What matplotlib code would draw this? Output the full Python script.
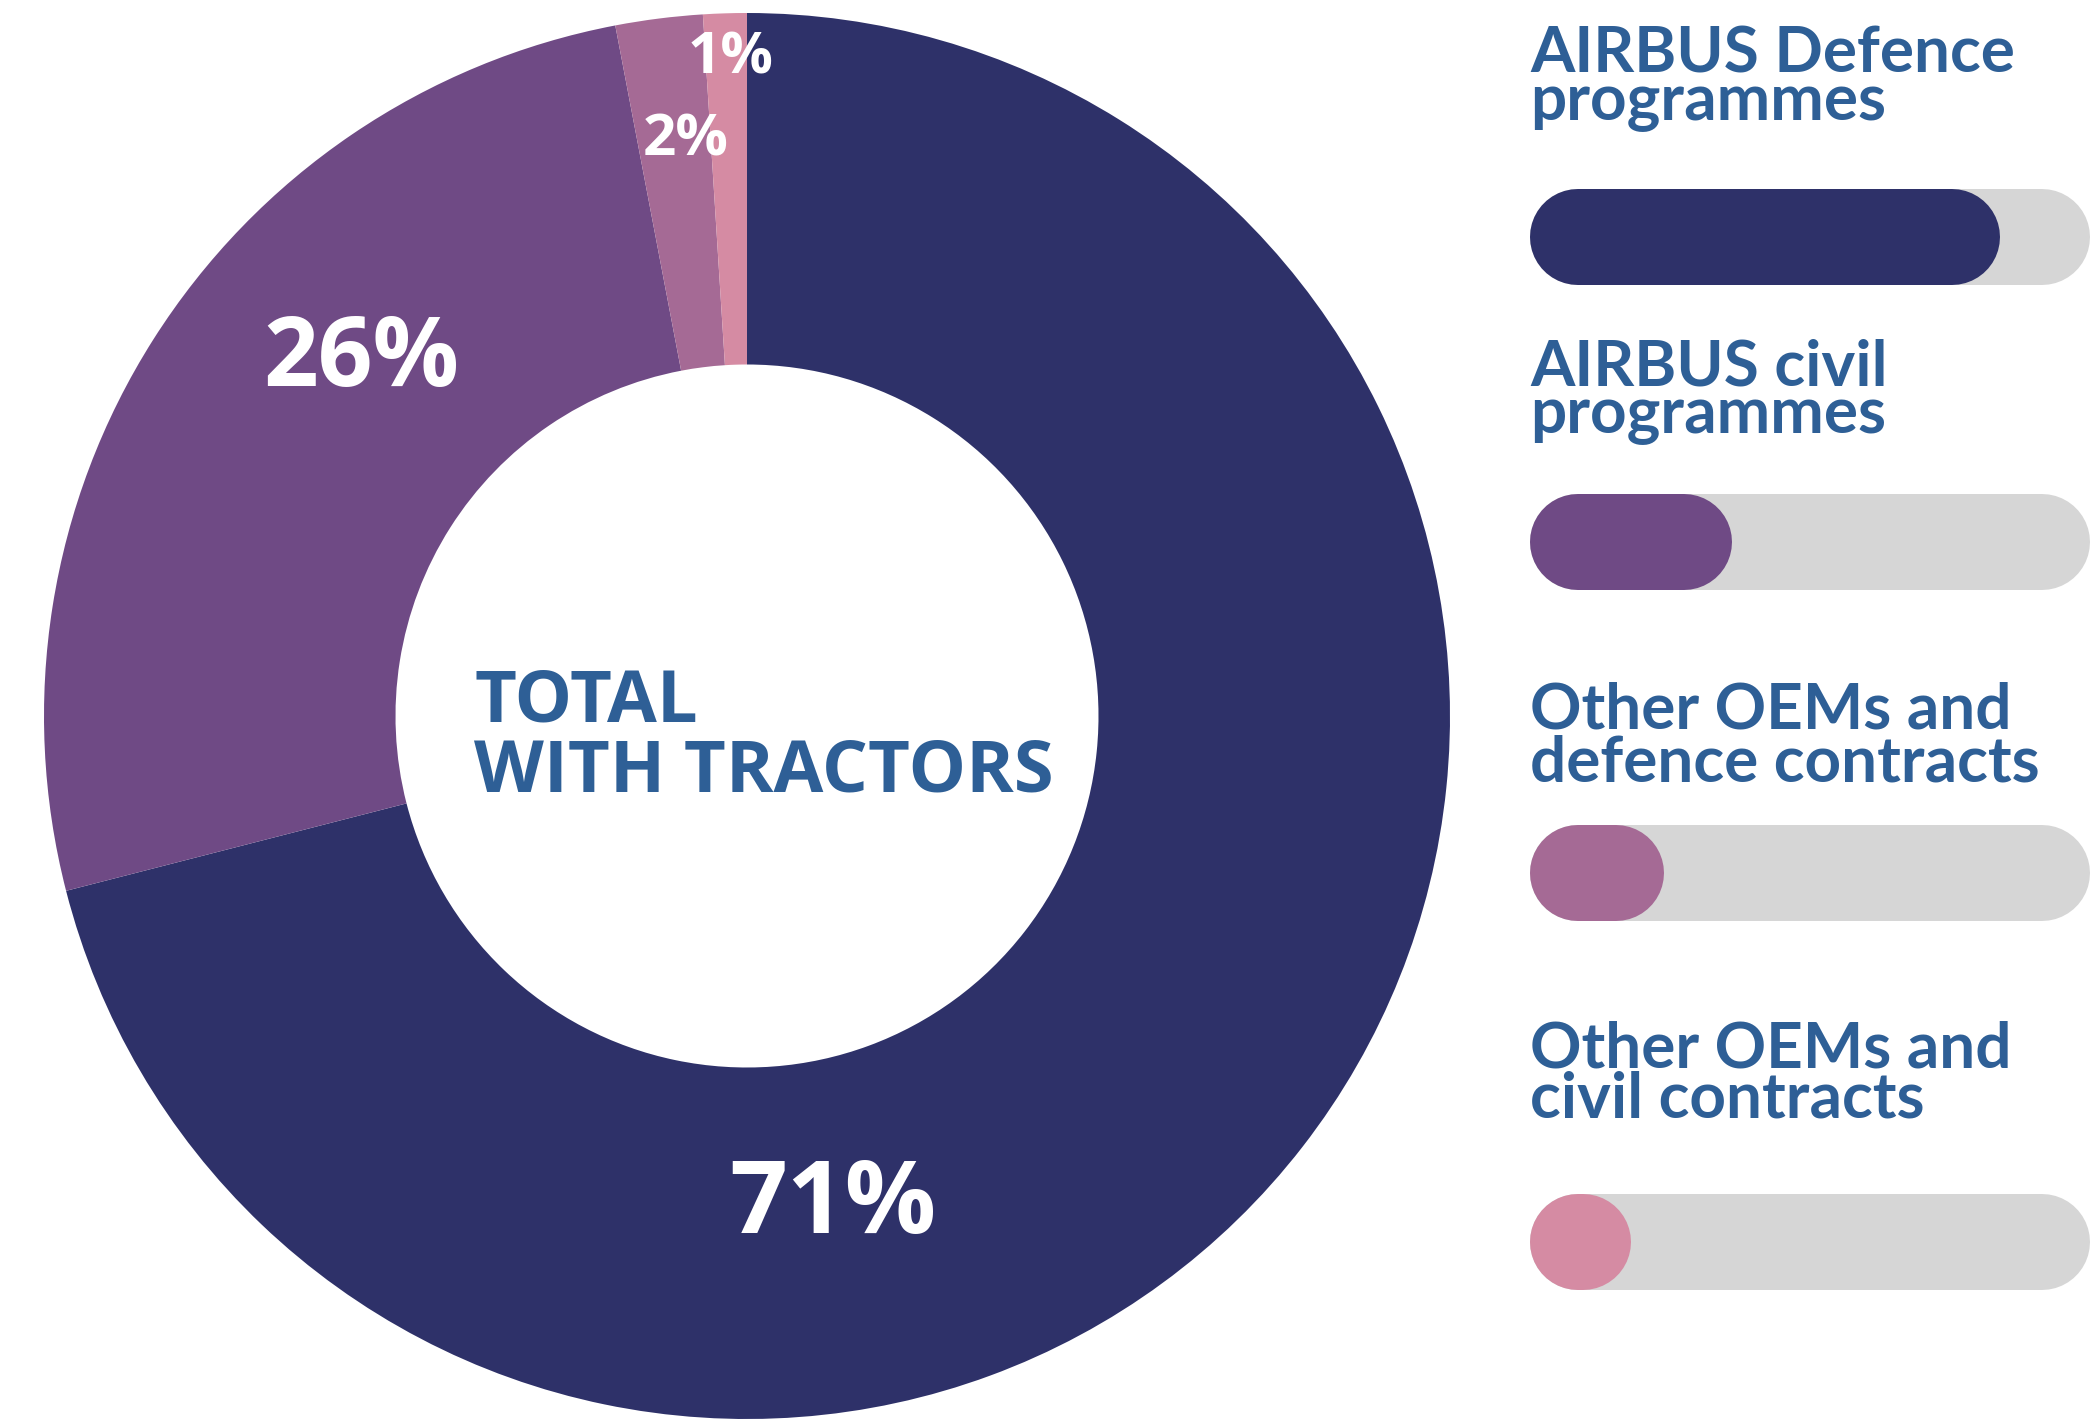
import matplotlib

matplotlib.use('Agg')
import matplotlib.pyplot as plt

W, H = 2091, 1419
DPI = 100

# data
shares = [71, 26, 2, 1]
share_labels = ['71%', '26%', '2%', '1%']
colors = ['#2e3169', '#6f4a85', '#a56a95', '#d58ba3']
legend_labels = [
    'AIRBUS Defence\nprogrammes',
    'AIRBUS civil\nprogrammes',
    'Other OEMs and\ndefence contracts',
    'Other OEMs and\ncivil contracts',
]
bar_fill = [0.84, 0.36, 0.24, 0.18]
center_text = ['TOTAL', 'WITH TRACTORS']

TEXT_BLUE = '#2e5f96'
TRACK = '#d6d6d6'

plt.rcParams['font.family'] = ['Open Sans', 'DejaVu Sans']


def sy(y):
    # screen y (from top) -> data y
    return H - y


fig = plt.figure(figsize=(W / DPI, H / DPI), dpi=DPI)
ax = fig.add_axes([0, 0, 1, 1])

cx, cy, r = 747, 716, 703
ax.pie(shares, colors=colors, startangle=90, counterclock=False,
       center=(cx, sy(cy)), radius=r,
       wedgeprops=dict(width=r * 0.5, edgecolor='none'))
ax.set_xlim(0, W)
ax.set_ylim(0, H)
ax.set_aspect('equal')
ax.axis('off')

# percentage labels: (x, y, size)
label_pos = [(833, 1194, 73), (361, 349, 69), (686, 134, 42), (731, 51, 42)]
for txt, (x, y, s) in zip(share_labels, label_pos):
    ax.text(x, sy(y), txt, color='white', fontsize=s, fontweight='bold',
            ha='center', va='center_baseline')

# centre text
for txt, yb in zip(center_text, [722, 792]):
    ax.text(474, sy(yb), txt, color=TEXT_BLUE, fontsize=52, fontweight='bold',
            ha='left', va='baseline')

# legend with rounded progress bars (thick lines with round caps)
x0, track_w, bar_h = 1530, 560, 96
lw = bar_h * 72 / DPI
last_baselines = [120, 433, 782, 1118]
spacings = [0.8, 0.8, 0.93, 0.87]
bar_centers = [237, 542, 873, 1242]
for lab, bl, ls, yc, frac, col in zip(legend_labels, last_baselines, spacings,
                                      bar_centers, bar_fill, colors):
    ax.text(x0, sy(bl), lab, color=TEXT_BLUE, fontsize=46, fontweight='bold',
            family=['Lato', 'DejaVu Sans'], ha='left', va='baseline',
            linespacing=ls)
    y = sy(yc)
    ax.plot([x0 + bar_h / 2, x0 + track_w - bar_h / 2], [y, y], color=TRACK,
            lw=lw, solid_capstyle='round')
    fill_end = max(x0 + track_w * frac - bar_h / 2, x0 + bar_h / 2 + 0.5)
    ax.plot([x0 + bar_h / 2, fill_end], [y, y], color=col,
            lw=lw, solid_capstyle='round')

fig.savefig('out.png', dpi=DPI, facecolor='white')
